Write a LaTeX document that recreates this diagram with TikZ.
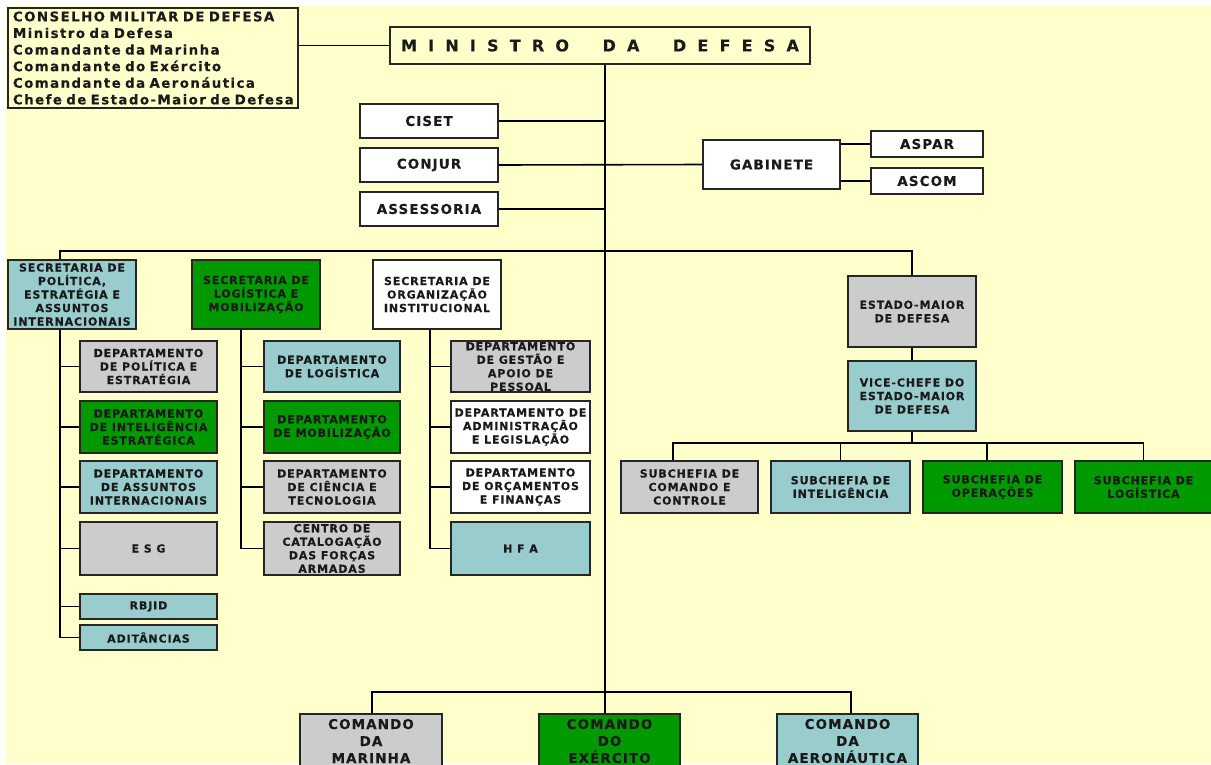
\documentclass[tikz,border=0pt]{standalone}
\usepackage{fontspec}
\newfontfamily\vb{DejaVu Sans Bold}[LetterSpace=8, FakeBold=0.3]
\newfontfamily\vbc{DejaVu Sans Bold}[LetterSpace=11, WordSpace=2, FakeBold=0.3]
\newfontfamily\vbm{DejaVu Sans Bold}[LetterSpace=70, FakeBold=0.3]
\definecolor{bgy}{HTML}{FFFFCC}
\definecolor{bgray}{HTML}{CCCCCC}
\definecolor{bteal}{HTML}{99CCCC}
\definecolor{bgreen}{HTML}{009900}
\definecolor{bord}{HTML}{262626}
\definecolor{txt}{HTML}{1A1A1A}
\newcommand\smf{\vb\fontsize{11}{13.5}\selectfont}
\newcommand\mdf{\vb\fontsize{13.5}{15}\selectfont}
\newcommand\cmf{\vb\fontsize{13.5}{17}\selectfont}
\newcommand\cnf{\vbc\fontsize{13.3}{16.6}\selectfont}
\newcommand\mnf{\vbm\fontsize{16}{18}\selectfont}
\begin{document}
\begin{tikzpicture}[x=1pt,y=-1pt,
  box/.style={draw=bord, line width=1.8pt, inner sep=0pt, align=center, text=txt, font=\smf},
  fgray/.style={box, fill=bgray},
  fteal/.style={box, fill=bteal},
  fgreen/.style={box, fill=bgreen},
  fwhite/.style={box, fill=white},
  wire/.style={draw=black, line width=1.6pt},
  sec/.style={minimum width=128, minimum height=69},
  dep/.style={minimum width=137, minimum height=52}]
\useasboundingbox (0,0) rectangle (1211,764);
\clip (0,0) rectangle (1211,764);
\fill[bgy] (6,6) rectangle (1211,764);

% top
\node[box, fill=bgy, minimum width=290, minimum height=100, text width=280, align=left, font=\cnf] (cons) at (153,58)
 {CONSELHO MILITAR DE DEFESA\\Ministro da Defesa\\Comandante da Marinha\\Comandante do Ex\'ercito\\Comandante da Aeron\'autica\\Chefe de Estado-Maior de Defesa};
\node[box, fill=bgy, minimum width=420, minimum height=37, font=\mnf] (min) at (600,45.5) {MINISTRO\ \ DA\ \ DEFESA};

\node[fwhite, font=\mdf, minimum width=138, minimum height=34] (ciset) at (429,121) {CISET};
\node[fwhite, font=\mdf, minimum width=138, minimum height=34] (conjur) at (429,165) {CONJUR};
\node[fwhite, font=\mdf, minimum width=138, minimum height=34] (assess) at (429,209) {ASSESSORIA};
\node[fwhite, font=\mdf, minimum width=137, minimum height=49] (gab) at (771.5,164.5) {GABINETE};
\node[fwhite, font=\mdf, minimum width=112, minimum height=26] (aspar) at (927,144) {ASPAR};
\node[fwhite, font=\mdf, minimum width=112, minimum height=26] (ascom) at (927,181) {ASCOM};

% secretarias
\node[fteal, sec] (speai) at (72,294.5) {SECRETARIA DE\\POL\'ITICA,\\ESTRAT\'EGIA E\\ASSUNTOS\\INTERNACIONAIS};
\node[fgreen, sec] (slm) at (256,294.5) {SECRETARIA DE\\LOG\'ISTICA E\\MOBILIZA\c{C}\~AO};
\node[fwhite, sec] (soi) at (437,294.5) {SECRETARIA DE\\ORGANIZA\c{C}\~AO\\INSTITUCIONAL};

% column 1
\node[fgray, dep, minimum height=51] (dpe) at (148.5,366.5) {DEPARTAMENTO\\DE POL\'ITICA E\\ESTRAT\'EGIA};
\node[fgreen, dep] (die) at (148.5,427) {DEPARTAMENTO\\DE INTELIG\^ENCIA\\ESTRAT\'EGICA};
\node[fteal, dep] (dai) at (148.5,487) {DEPARTAMENTO\\DE ASSUNTOS\\INTERNACIONAIS};
\node[fgray, dep, minimum height=53] (esg) at (148.5,548.5) {E S G};
\node[fteal, dep, minimum height=25] (rbjid) at (148.5,606.5) {RBJID};
\node[fteal, dep, minimum height=25] (adit) at (148.5,637.5) {ADIT\^ANCIAS};

% column 2
\node[fteal, dep, minimum width=136, minimum height=51] (dl) at (332,366.5) {DEPARTAMENTO\\DE LOG\'ISTICA};
\node[fgreen, dep, minimum width=136] (dm) at (332,427) {DEPARTAMENTO\\DE MOBILIZA\c{C}\~AO};
\node[fgray, dep, minimum width=136] (dct) at (332,487) {DEPARTAMENTO\\DE CI\^ENCIA E\\TECNOLOGIA};
\node[fgray, dep, minimum width=136, minimum height=53] (cc) at (332,548.5) {CENTRO DE\\CATALOGA\c{C}\~AO\\DAS FOR\c{C}AS\\ARMADAS};

% column 3
\node[fgray, dep, minimum width=139, minimum height=51] (dgap) at (520.5,366.5) {DEPARTAMENTO\\DE GEST\~AO E\\APOIO DE\\PESSOAL};
\node[fwhite, dep, minimum width=139] (dal) at (520.5,427) {DEPARTAMENTO DE\\ADMINISTRA\c{C}\~AO\\E LEGISLA\c{C}\~AO};
\node[fwhite, dep, minimum width=139] (dof) at (520.5,487) {DEPARTAMENTO\\DE OR\c{C}AMENTOS\\E FINAN\c{C}AS};
\node[fteal, dep, minimum width=139, minimum height=53] (hfa) at (520.5,548.5) {H F A};

% estado-maior
\node[fgray, minimum width=128, minimum height=71] (emd) at (912,311.5) {ESTADO-MAIOR\\DE DEFESA};
\node[fteal, minimum width=128, minimum height=70] (vce) at (912,396) {VICE-CHEFE DO\\ESTADO-MAIOR\\DE DEFESA};
\node[fgray, dep] (scc) at (689.5,487) {SUBCHEFIA DE\\COMANDO E\\CONTROLE};
\node[fteal, dep, minimum width=139] (si) at (840.5,487) {SUBCHEFIA DE\\INTELIG\^ENCIA};
\node[fgreen, dep, minimum width=139] (so) at (992.5,487) {SUBCHEFIA DE\\OPERA\c{C}\~OES};
\node[fgreen, dep] (sl) at (1143.5,487) {SUBCHEFIA DE\\LOG\'ISTICA};

% comandos
\node[fgray, font=\cmf, minimum width=142, minimum height=54] (cm) at (371,741) {COMANDO\\DA\\MARINHA};
\node[fgreen, font=\cmf, minimum width=141, minimum height=54] (ce) at (609.5,741) {COMANDO\\DO\\EX\'ERCITO};
\node[fteal, font=\cmf, minimum width=141, minimum height=54] (ca) at (847.5,741) {COMANDO\\DA\\AERON\'AUTICA};

% connectors
\coordinate (tb) at (605,692);
\coordinate (c1) at (60,251);
\coordinate (c2) at (241,251);
\coordinate (c3) at (430,251);
\coordinate (sb) at (912,443);

\draw[wire] (cons.east |- min.west) -- (min.west);
\draw[wire] (min.south -| tb) -- (tb |- ce.north);
\draw[wire] ([xshift=1]cm.north) |- (tb) -| ([xshift=3.5]ca.north);
\draw[wire] (ciset.east) -- (ciset.east -| tb);
\draw[wire] (conjur.east) -- (gab.west);
\draw[wire] (assess.east) -- (assess.east -| tb);
\draw[wire] (gab.east |- aspar.west) -- (aspar.west);
\draw[wire] (gab.east |- ascom.west) -- (ascom.west);

\draw[wire] (c1 |- speai.north) -- (c1) -- (c1 -| emd.north) -- (emd.north);

\draw[wire] (c1 |- speai.south) -- (c1 |- adit.west) -- (adit.west);
\foreach \n in {dpe,die,dai,esg,rbjid} \draw[wire] (c1 |- \n.west) -- (\n.west);
\draw[wire] (c2 |- slm.south) -- (c2 |- cc.west) -- (cc.west);
\foreach \n in {dl,dm,dct} \draw[wire] (c2 |- \n.west) -- (\n.west);
\draw[wire] (c3 |- soi.south) -- (c3 |- hfa.west) -- (hfa.west);
\foreach \n in {dgap,dal,dof} \draw[wire] (c3 |- \n.west) -- (\n.west);

\draw[wire] (emd.south) -- (vce.north);
\draw[wire] (vce.south) -- (sb);
\draw[wire] ([xshift=-16.5]scc.north) |- (sb) -| (sl.north);
\draw[wire] (si.north) -- (si.north |- sb);
\draw[wire] ([xshift=-5.5]so.north) -- ([xshift=-5.5]so.north |- sb);
\end{tikzpicture}
\end{document}
